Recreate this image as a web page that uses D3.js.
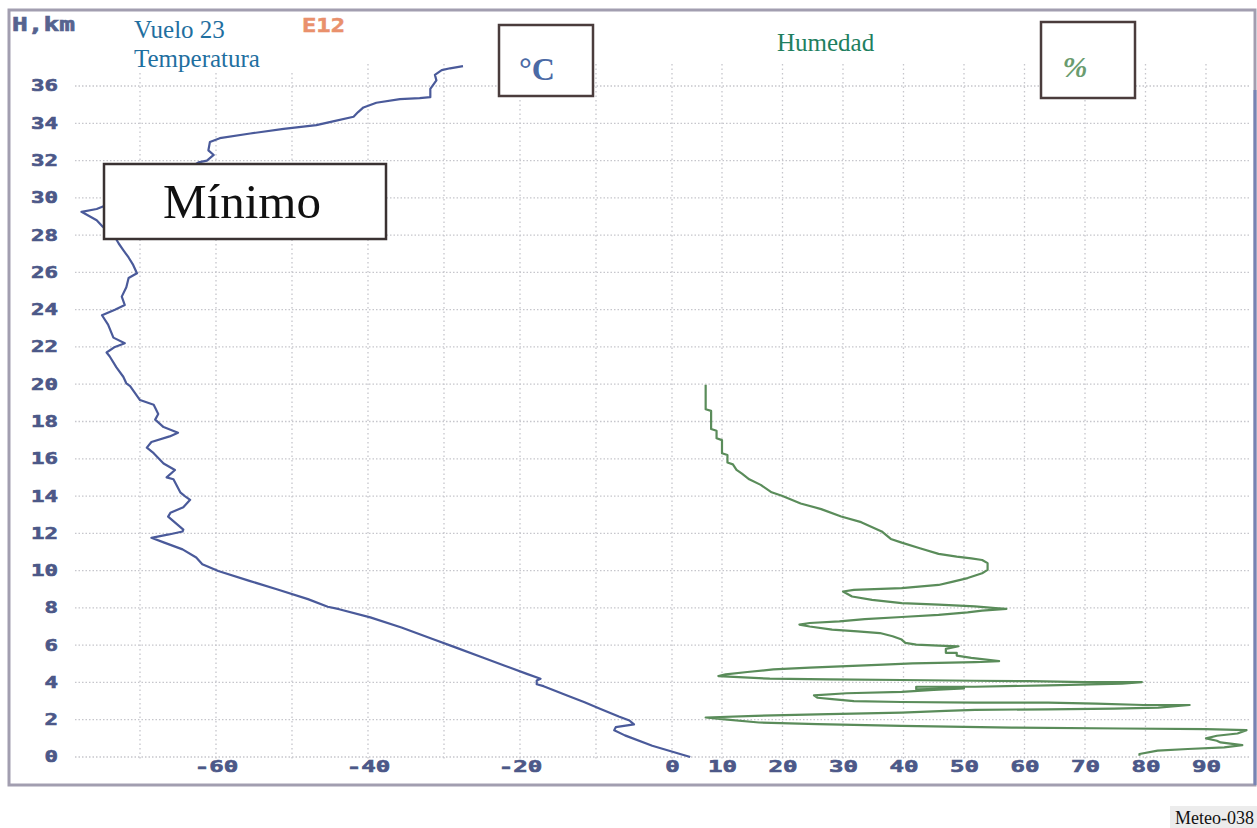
<!DOCTYPE html>
<html>
<head>
<meta charset="utf-8">
<script src="https://cdn.jsdelivr.net/npm/d3@7"></script>
<style>
  body { margin: 0; background: #fff; }
  svg { display: block; }
</style>
</head>
<body>
<svg id="chart"></svg>
<script>
// Temperature profile (height km, degrees C), bottom to top
const tempHeight = [0, 0.6, 1.16, 1.43, 1.6, 1.75, 1.96, 2.17, 2.58, 2.94, 3.3, 3.8, 3.9, 4.1, 4.2, 4.46, 4.9, 5.35, 5.88, 6.33, 6.95, 7.49, 7.93, 8.06, 8.47, 9.0, 9.45, 9.98, 10.34, 10.7, 11.14, 11.5, 11.76, 11.94, 12.1, 12.2, 12.9, 13.1, 13.4, 13.8, 14.0, 14.2, 14.9, 15.0, 15.4, 15.75, 16.3, 16.6, 16.9, 17.2, 17.4, 17.7, 18.1, 18.4, 18.9, 19.15, 19.9, 20.05, 20.4, 20.9, 21.5, 21.7, 22.0, 22.2, 22.5, 23.2, 23.7, 24.0, 24.25, 24.7, 25.2, 25.7, 25.95, 26.4, 26.8, 27.2, 27.55, 27.9, 28.45, 28.8, 29.25, 29.4, 30.0, 30.8, 31.5, 31.9, 32.0, 32.3, 32.55, 33.0, 33.2, 33.45, 33.7, 33.9, 34.1, 34.35, 34.6, 34.85, 35.1, 35.3, 35.35, 35.4, 35.85, 36.3, 36.6, 36.85, 36.95, 37.07];
const tempValue = [2.4, -2.6, -6.2, -7.6, -7.4, -5.0, -5.6, -7.0, -9.4, -11.5, -13.8, -16.9, -17.8, -17.8, -17.3, -19.1, -22, -25, -28.5, -31.5, -35.6, -39.7, -43.8, -45.3, -47.9, -52, -55.6, -59.7, -61.8, -62.6, -64.4, -66.8, -68.5, -66.2, -64.4, -64.3, -66.3, -66, -64.3, -63.4, -64.1, -64.7, -65.6, -66.5, -65.4, -66.9, -68.2, -69.1, -68.5, -66.1, -65, -66.9, -68, -67.6, -68.2, -70, -71.3, -71.8, -72.2, -73.1, -74, -74.4, -73.3, -72, -73.5, -74.2, -75, -73.3, -72, -72.4, -71.8, -71.5, -70.4, -70.9, -71.5, -72.2, -72.8, -73.3, -74.9, -75.7, -77.7, -75.7, -72, -67, -64, -62.3, -61.2, -60.3, -61, -60.8, -59.5, -55.5, -51.1, -46.8, -44.6, -41.9, -41.3, -40.6, -38.9, -35.8, -33.2, -31.8, -31.8, -31, -31.2, -30.3, -29.2, -27.5];

// Humidity profile (height km, %), top to bottom
const humHeight = [19.97, 18.66, 18.57, 17.6, 17.5, 17.1, 17.0, 16.3, 16.2, 15.8, 15.7, 15.4, 15.2, 14.9, 14.6, 14.2, 14.0, 13.6, 13.3, 12.9, 12.6, 12.1, 11.7, 11.5, 11.2, 10.9, 10.75, 10.66, 10.57, 10.4, 10.04, 9.86, 9.6, 9.41, 9.23, 9.06, 8.97, 8.88, 8.61, 8.43, 8.26, 8.17, 8.08, 7.99, 7.95, 7.85, 7.76, 7.63, 7.51, 7.4, 7.28, 7.19, 7.1, 7.0, 6.83, 6.74, 6.65, 6.48, 6.3, 6.12, 6.03, 5.98, 5.94, 5.8, 5.59, 5.59, 5.44, 5.32, 5.14, 5.09, 5.05, 5.02, 4.96, 4.88, 4.79, 4.7, 4.56, 4.43, 4.34, 4.2, 4.16, 4.13, 4.09, 4.07, 4.02, 4.02, 3.93, 3.84, 3.77, 3.77, 3.63, 3.68, 3.6, 3.49, 3.42, 3.31, 3.18, 3.1, 3.0, 2.95, 2.92, 2.92, 2.86, 2.79, 2.79, 2.65, 2.6, 2.56, 2.53, 2.47, 2.38, 2.3, 2.21, 2.12, 2.03, 1.85, 1.76, 1.67, 1.58, 1.53, 1.5, 1.44, 1.26, 1.14, 1.0, 0.87, 0.78, 0.64, 0.52, 0.43, 0.34, 0.16, 0.07];
const humValue = [7.3, 7.3, 8.2, 8.2, 9.1, 9.1, 10, 10, 10.9, 10.9, 11.8, 12.4, 13.3, 14.5, 16.4, 18.2, 20, 23, 26.4, 29.7, 33, 36.4, 37.9, 39.7, 42.7, 45.8, 48.8, 51.2, 53, 53.9, 53.9, 53, 50.6, 48.2, 45.8, 39.7, 31.8, 30, 31.5, 34.8, 39.7, 45.8, 51.8, 55.2, 57, 53, 50.6, 45.8, 39.7, 33.6, 29.4, 24.5, 22.8, 24.5, 28.2, 32.4, 36.1, 38.2, 39.7, 40.3, 42.1, 45.8, 49.1, 47, 47, 48.8, 48.8, 51.2, 55.8, 51.8, 45.8, 41.5, 36.7, 30.6, 24.5, 18.5, 14.2, 10.6, 9.4, 17.9, 27.6, 39.7, 51.8, 60.9, 70, 79.4, 76.1, 63.9, 51.8, 42.1, 42.1, 50, 45, 39.7, 30.6, 25.2, 25.8, 28.2, 31.8, 39.7, 51.8, 63.9, 71.8, 79.7, 87.3, 82.1, 74.8, 63.9, 51.8, 47, 39.7, 27.6, 15.5, 7.3, 10, 16.1, 25.8, 39.7, 57.9, 76.1, 90, 96.7, 95.2, 91.8, 90, 91.8, 92.4, 96, 93, 87, 82, 79, 79];

// Ticks
const heightTicks = d3.range(0, 37, 2);
const tempTicks = [-60, -40, -20, 0];
const tempGrid = [-70, -60, -50, -40, -30, -20, -10, 0];
const humTicks = [10, 20, 30, 40, 50, 60, 70, 80, 90];

const width = 1257, height = 828;
const svg = d3.select("#chart").attr("width", width).attr("height", height);

// Scales
const y = d3.scaleLinear().domain([0, 36]).range([757, 86]);
const xT = d3.scaleLinear().domain([-60, 0]).range([216, 672]);
const xH = d3.scaleLinear().domain([10, 90]).range([722, 1206]);

const labelColor = "#4c5888";
const gridColor = "#c6c6cc";

// Gridlines
const grid = svg.append("g");
grid.selectAll(".hgrid")
  .data(heightTicks)
  .enter().append("line")
  .attr("x1", 75).attr("x2", 1250)
  .attr("y1", d => y(d)).attr("y2", d => y(d))
  .attr("stroke", gridColor).attr("stroke-width", 1.3)
  .attr("stroke-dasharray", "1.5,2");

grid.selectAll(".tgrid")
  .data(tempGrid)
  .enter().append("line")
  .attr("x1", d => xT(d)).attr("x2", d => xT(d))
  .attr("y1", 64).attr("y2", 760)
  .attr("stroke", gridColor).attr("stroke-width", 1.3)
  .attr("stroke-dasharray", "1.5,3");

grid.selectAll(".hmgrid")
  .data(humTicks)
  .enter().append("line")
  .attr("x1", d => xH(d)).attr("x2", d => xH(d))
  .attr("y1", 64).attr("y2", 760)
  .attr("stroke", gridColor).attr("stroke-width", 1.3)
  .attr("stroke-dasharray", "1.5,3");

// Frame
svg.append("rect")
  .attr("x", 9).attr("y", 10).attr("width", 1246).attr("height", 775)
  .attr("fill", "none").attr("stroke", "#a29eb0").attr("stroke-width", 3);
svg.append("line")
  .attr("x1", 1255).attr("x2", 1255).attr("y1", 90).attr("y2", 785)
  .attr("stroke", "#7884b4").attr("stroke-width", 3);

// Axis labels helper
function styleTicks(g, charW) {
  g.select(".domain").remove();
  g.selectAll("text")
    .attr("fill", labelColor)
    .attr("stroke", labelColor).attr("stroke-width", 0.6)
    .attr("font-family", "'DejaVu Sans Mono', monospace")
    .attr("font-weight", "bold")
    .attr("font-size", 15.5)
    .attr("textLength", d => String(d).length * charW)
    .attr("lengthAdjust", "spacingAndGlyphs");
}

svg.append("g")
  .attr("transform", "translate(58,0)")
  .call(d3.axisLeft(y).tickValues(heightTicks).tickSize(0).tickPadding(0).tickFormat(d => String(d)))
  .call(g => styleTicks(g, 13.5));

svg.append("g")
  .attr("transform", "translate(0,758)")
  .call(d3.axisBottom(xT).tickValues(tempTicks).tickSize(0).tickPadding(3).tickFormat(d => String(d)))
  .call(g => styleTicks(g, 14.5));

svg.append("g")
  .attr("transform", "translate(0,758)")
  .call(d3.axisBottom(xH).tickValues(humTicks).tickSize(0).tickPadding(3).tickFormat(d => String(d)))
  .call(g => styleTicks(g, 14.5));

// Curves
const tempLine = d3.line()
  .x(i => xT(tempValue[i]))
  .y(i => y(tempHeight[i]));
svg.append("path")
  .attr("d", tempLine(d3.range(tempHeight.length)))
  .attr("fill", "none").attr("stroke", "#4a5a9a").attr("stroke-width", 2.2)
  .attr("stroke-linejoin", "round");

const humLine = d3.line()
  .x(i => xH(humValue[i]))
  .y(i => y(humHeight[i]));
svg.append("path")
  .attr("d", humLine(d3.range(humHeight.length)))
  .attr("fill", "none").attr("stroke", "#5a8c5a").attr("stroke-width", 2.2)
  .attr("stroke-linejoin", "round");

// Top-left labels
svg.append("text")
  .attr("x", 12).attr("y", 31)
  .attr("fill", "#56638f").attr("stroke", "#56638f").attr("stroke-width", 0.6)
  .attr("font-family", "'DejaVu Sans Mono', monospace").attr("font-weight", "bold")
  .attr("font-size", 19)
  .attr("textLength", 63).attr("lengthAdjust", "spacingAndGlyphs")
  .text("H,km");

svg.append("rect").attr("x", 128).attr("y", 16).attr("width", 170).attr("height", 56).attr("fill", "#fff");
svg.append("text")
  .attr("x", 134).attr("y", 38)
  .attr("fill", "#1f6fa0").attr("font-family", "'Liberation Serif', serif").attr("font-size", 25)
  .text("Vuelo 23");
svg.append("text")
  .attr("x", 134).attr("y", 67)
  .attr("fill", "#1f6fa0").attr("font-family", "'Liberation Serif', serif").attr("font-size", 25)
  .text("Temperatura");

svg.append("text")
  .attr("x", 302).attr("y", 32)
  .attr("fill", "#e9906c").attr("stroke", "#e9906c").attr("stroke-width", 0.5)
  .attr("font-family", "'DejaVu Sans Mono', monospace").attr("font-weight", "bold")
  .attr("font-size", 20)
  .attr("textLength", 43).attr("lengthAdjust", "spacingAndGlyphs")
  .text("E12");

svg.append("text")
  .attr("x", 777).attr("y", 51)
  .attr("fill", "#1f7f5f").attr("font-family", "'Liberation Serif', serif").attr("font-size", 25)
  .text("Humedad");

// Unit boxes
svg.append("rect")
  .attr("x", 499).attr("y", 25).attr("width", 94).attr("height", 71)
  .attr("fill", "#fff").attr("stroke", "#4a3c3c").attr("stroke-width", 2.5);
svg.append("text")
  .attr("x", 537).attr("y", 80).attr("text-anchor", "middle")
  .attr("fill", "#4b6aa5").attr("font-family", "'Liberation Serif', serif")
  .attr("font-weight", "bold").attr("font-size", 32)
  .text("°C");

svg.append("rect")
  .attr("x", 1041).attr("y", 22).attr("width", 94).attr("height", 76)
  .attr("fill", "#fff").attr("stroke", "#4a3c3c").attr("stroke-width", 2.5);
svg.append("text")
  .attr("x", 1075).attr("y", 77).attr("text-anchor", "middle")
  .attr("fill", "#6a9c6e").attr("font-family", "'Liberation Serif', serif")
  .attr("font-weight", "bold").attr("font-style", "italic").attr("font-size", 30)
  .text("%");

// Mínimo box
svg.append("rect")
  .attr("x", 104).attr("y", 164).attr("width", 282).attr("height", 75)
  .attr("fill", "#fff").attr("stroke", "#3a3232").attr("stroke-width", 2.5);
svg.append("text")
  .attr("x", 242).attr("y", 218).attr("text-anchor", "middle")
  .attr("fill", "#111").attr("font-family", "'Liberation Serif', serif").attr("font-size", 49)
  .text("Mínimo");

// Figure id
svg.append("rect").attr("x", 1170).attr("y", 806).attr("width", 87).attr("height", 22).attr("fill", "#ececec");
svg.append("text")
  .attr("x", 1254).attr("y", 824).attr("text-anchor", "end")
  .attr("fill", "#111").attr("font-family", "'Liberation Serif', serif").attr("font-size", 18)
  .text("Meteo-038");
</script>
</body>
</html>
